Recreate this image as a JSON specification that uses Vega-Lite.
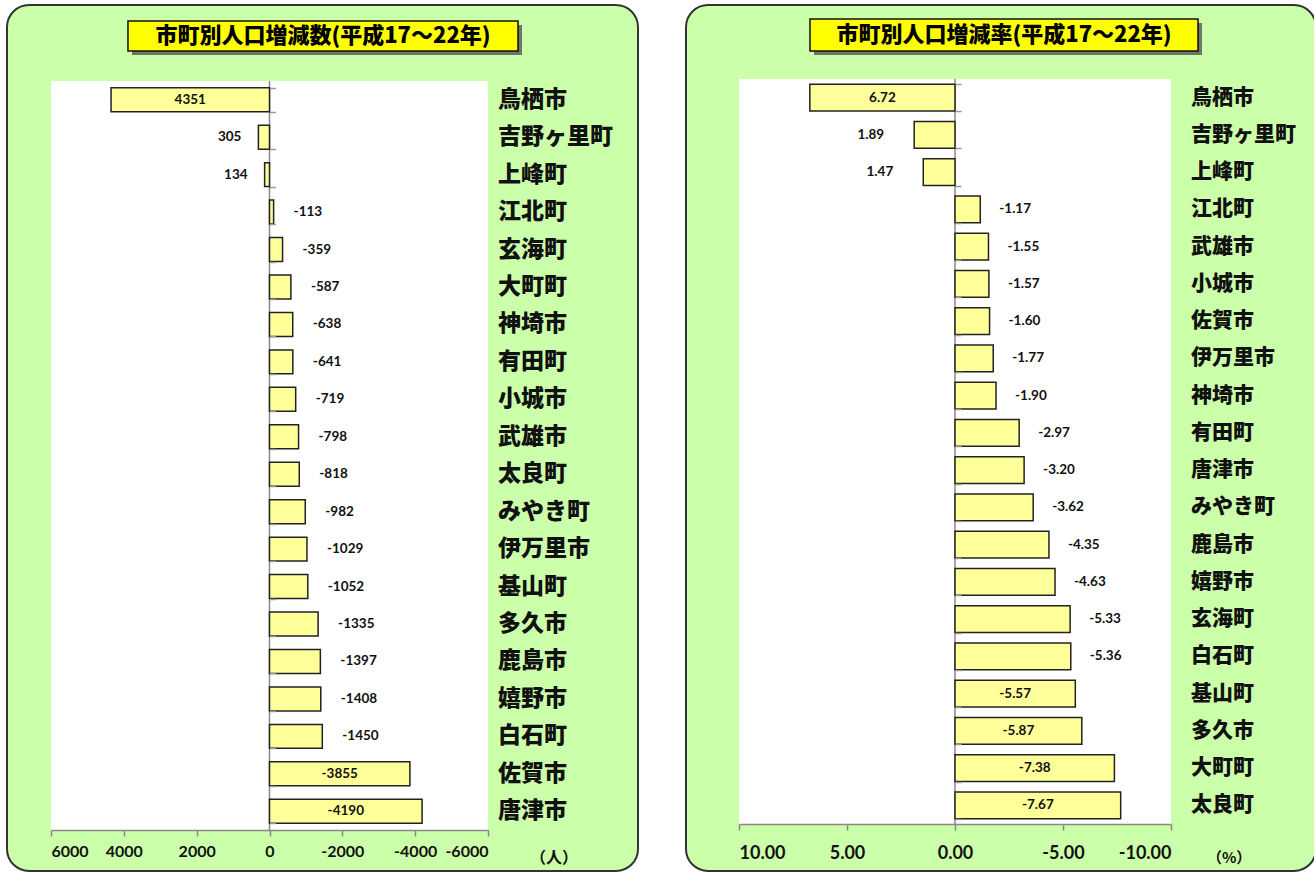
{
  "$schema": "https://vega.github.io/schema/vega-lite/v6.json",
  "background": "white",
  "padding": {"left": 6, "top": 4, "right": 0, "bottom": 0},
  "spacing": 46,
  "config": {
    "view": {"fill": "#CCFFAA", "stroke": "#333333", "strokeWidth": 2, "cornerRadius": 22},
    "locale": {"number": {"decimal": ".", "thousands": ",", "grouping": [3], "currency": ["$", ""], "minus": "-"}}
  },
  "datasets": {
    "count": [
      {"name": "鳥栖市", "v": 4351},
      {"name": "吉野ヶ里町", "v": 305},
      {"name": "上峰町", "v": 134},
      {"name": "江北町", "v": -113},
      {"name": "玄海町", "v": -359},
      {"name": "大町町", "v": -587},
      {"name": "神埼市", "v": -638},
      {"name": "有田町", "v": -641},
      {"name": "小城市", "v": -719},
      {"name": "武雄市", "v": -798},
      {"name": "太良町", "v": -818},
      {"name": "みやき町", "v": -982},
      {"name": "伊万里市", "v": -1029},
      {"name": "基山町", "v": -1052},
      {"name": "多久市", "v": -1335},
      {"name": "鹿島市", "v": -1397},
      {"name": "嬉野市", "v": -1408},
      {"name": "白石町", "v": -1450},
      {"name": "佐賀市", "v": -3855},
      {"name": "唐津市", "v": -4190}
    ],
    "rate": [
      {"name": "鳥栖市", "v": 6.72},
      {"name": "吉野ヶ里町", "v": 1.89},
      {"name": "上峰町", "v": 1.47},
      {"name": "江北町", "v": -1.17},
      {"name": "武雄市", "v": -1.55},
      {"name": "小城市", "v": -1.57},
      {"name": "佐賀市", "v": -1.60},
      {"name": "伊万里市", "v": -1.77},
      {"name": "神埼市", "v": -1.90},
      {"name": "有田町", "v": -2.97},
      {"name": "唐津市", "v": -3.20},
      {"name": "みやき町", "v": -3.62},
      {"name": "鹿島市", "v": -4.35},
      {"name": "嬉野市", "v": -4.63},
      {"name": "玄海町", "v": -5.33},
      {"name": "白石町", "v": -5.36},
      {"name": "基山町", "v": -5.57},
      {"name": "多久市", "v": -5.87},
      {"name": "大町町", "v": -7.38},
      {"name": "太良町", "v": -7.67}
    ]
  },
  "hconcat": [
    {
      "width": 631,
      "height": 866,
      "data": {"name": "count"},
      "resolve": {"scale": {"x": "independent", "y": "independent"}},
      "layer": [
        {
          "data": {"values": [{}]},
          "mark": {"type": "rect", "fill": "white"},
          "encoding": {
            "x": {"datum": 6000, "type": "quantitative", "scale": {"domain": [6000, -6000], "range": [44, 481], "nice": false, "zero": false}, "axis": null},
            "x2": {"datum": -6000},
            "y": {"datum": 76, "type": "quantitative", "scale": {"domain": [0, 866], "range": [0, 866], "nice": false, "zero": false}, "axis": null},
            "y2": {"datum": 825}
          }
        },
        {
          "data": {"values": [{}]},
          "mark": {"type": "rule", "color": "#888888", "strokeWidth": 1.5},
          "encoding": {
            "x": {"datum": 0, "type": "quantitative", "scale": {"domain": [6000, -6000], "range": [44, 481], "nice": false, "zero": false}, "axis": null},
            "y": {"datum": 76, "type": "quantitative", "scale": {"domain": [0, 866], "range": [0, 866], "nice": false, "zero": false}, "axis": null},
            "y2": {"datum": 825}
          }
        },
        {
          "mark": {"type": "bar", "fill": "#FFFF99", "stroke": "#222222", "strokeWidth": 1.5},
          "encoding": {
            "x": {"field": "v", "type": "quantitative", "scale": {"domain": [6000, -6000], "range": [44, 481], "nice": false, "zero": false},
              "axis": {"orient": "bottom", "offset": -41, "zindex": 1, "values": [6000, 4000, 2000, 0, -2000, -4000, -6000], "format": "d", "title": null, "grid": false,
                "domainColor": "#888888", "domainWidth": 1.5, "tickColor": "#888888", "tickWidth": 1.5, "tickSize": 6,
                "labelFont": "Lato", "labelFontSize": 16, "labelFontWeight": "bold", "labelColor": "#111111", "labelPadding": 7}},
            "x2": {"datum": 0},
            "y": {"field": "name", "type": "nominal", "sort": null,
              "scale": {"type": "band", "domain": ["鳥栖市", "吉野ヶ里町", "上峰町", "江北町", "玄海町", "大町町", "神埼市", "有田町", "小城市", "武雄市", "太良町", "みやき町", "伊万里市", "基山町", "多久市", "鹿島市", "嬉野市", "白石町", "佐賀市", "唐津市"], "range": [76, 825], "paddingInner": 0.36, "paddingOuter": 0.18},
              "axis": {"orient": "left", "offset": -262.5, "zindex": 1, "labels": false, "domain": false, "ticks": true, "tickSize": -6, "tickColor": "#999999", "tickWidth": 1.5, "tickBand": "extent", "title": null, "grid": false}}
          }
        },
        {
          "transform": [{"filter": "datum.v > 0 && datum.v < 3000"}],
          "mark": {"type": "text", "align": "right", "baseline": "middle", "dx": -17, "font": "Lato", "fontWeight": "bold", "fontSize": 13.5, "color": "#111111"},
          "encoding": {
            "x": {"field": "v", "type": "quantitative", "scale": {"domain": [6000, -6000], "range": [44, 481], "nice": false, "zero": false}, "axis": null},
            "y": {"field": "name", "type": "nominal", "sort": null, "scale": {"type": "band", "domain": ["鳥栖市", "吉野ヶ里町", "上峰町", "江北町", "玄海町", "大町町", "神埼市", "有田町", "小城市", "武雄市", "太良町", "みやき町", "伊万里市", "基山町", "多久市", "鹿島市", "嬉野市", "白石町", "佐賀市", "唐津市"], "range": [76, 825], "paddingInner": 0.36, "paddingOuter": 0.18}, "axis": null},
            "text": {"field": "v", "type": "quantitative", "format": "d"}
          }
        },
        {
          "transform": [{"filter": "datum.v < 0 && datum.v > -3000"}],
          "mark": {"type": "text", "align": "left", "baseline": "middle", "dx": 20, "font": "Lato", "fontWeight": "bold", "fontSize": 13.5, "color": "#111111"},
          "encoding": {
            "x": {"field": "v", "type": "quantitative", "scale": {"domain": [6000, -6000], "range": [44, 481], "nice": false, "zero": false}, "axis": null},
            "y": {"field": "name", "type": "nominal", "sort": null, "scale": {"type": "band", "domain": ["鳥栖市", "吉野ヶ里町", "上峰町", "江北町", "玄海町", "大町町", "神埼市", "有田町", "小城市", "武雄市", "太良町", "みやき町", "伊万里市", "基山町", "多久市", "鹿島市", "嬉野市", "白石町", "佐賀市", "唐津市"], "range": [76, 825], "paddingInner": 0.36, "paddingOuter": 0.18}, "axis": null},
            "text": {"field": "v", "type": "quantitative", "format": "d"}
          }
        },
        {
          "transform": [{"filter": "abs(datum.v) >= 3000"}],
          "mark": {"type": "text", "align": "center", "baseline": "middle", "font": "Lato", "fontWeight": "bold", "fontSize": 13.5, "color": "#111111"},
          "encoding": {
            "x": {"field": "v", "type": "quantitative", "scale": {"domain": [12000, -12000], "range": [44, 481], "nice": false, "zero": false}, "axis": null},
            "y": {"field": "name", "type": "nominal", "sort": null, "scale": {"type": "band", "domain": ["鳥栖市", "吉野ヶ里町", "上峰町", "江北町", "玄海町", "大町町", "神埼市", "有田町", "小城市", "武雄市", "太良町", "みやき町", "伊万里市", "基山町", "多久市", "鹿島市", "嬉野市", "白石町", "佐賀市", "唐津市"], "range": [76, 825], "paddingInner": 0.36, "paddingOuter": 0.18}, "axis": null},
            "text": {"field": "v", "type": "quantitative", "format": "d"}
          }
        },
        {
          "mark": {"type": "text", "align": "left", "baseline": "middle", "font": "Noto Sans CJK JP", "fontWeight": 900, "fontSize": 23, "color": "#111111"},
          "encoding": {
            "x": {"datum": -6275, "type": "quantitative", "scale": {"domain": [6000, -6000], "range": [44, 481], "nice": false, "zero": false}, "axis": null},
            "y": {"field": "name", "type": "nominal", "sort": null, "scale": {"type": "band", "domain": ["鳥栖市", "吉野ヶ里町", "上峰町", "江北町", "玄海町", "大町町", "神埼市", "有田町", "小城市", "武雄市", "太良町", "みやき町", "伊万里市", "基山町", "多久市", "鹿島市", "嬉野市", "白石町", "佐賀市", "唐津市"], "range": [76, 825], "paddingInner": 0.36, "paddingOuter": 0.18}, "axis": null},
            "text": {"field": "name", "type": "nominal"}
          }
        },
        {
          "data": {"values": [{}]},
          "mark": {"type": "rect", "fill": "#555555", "opacity": 0.8},
          "encoding": {
            "x": {"datum": 3776, "type": "quantitative", "scale": {"domain": [6000, -6000], "range": [44, 481], "nice": false, "zero": false}, "axis": null},
            "x2": {"datum": -6934},
            "y": {"datum": 20, "type": "quantitative", "scale": {"domain": [0, 866], "range": [0, 866], "nice": false, "zero": false}, "axis": null},
            "y2": {"datum": 50}
          }
        },
        {
          "data": {"values": [{}]},
          "mark": {"type": "rect", "fill": "#FFFF00", "stroke": "#111111", "strokeWidth": 1.5},
          "encoding": {
            "x": {"datum": 3886, "type": "quantitative", "scale": {"domain": [6000, -6000], "range": [44, 481], "nice": false, "zero": false}, "axis": null},
            "x2": {"datum": -6824},
            "y": {"datum": 16, "type": "quantitative", "scale": {"domain": [0, 866], "range": [0, 866], "nice": false, "zero": false}, "axis": null},
            "y2": {"datum": 46}
          }
        },
        {
          "data": {"values": [{"t": "市町別人口増減数(平成17～22年)"}]},
          "mark": {"type": "text", "align": "center", "baseline": "middle", "font": "Noto Sans CJK JP", "fontWeight": 900, "fontSize": 22, "color": "#000000"},
          "encoding": {
            "x": {"datum": -1469, "type": "quantitative", "scale": {"domain": [6000, -6000], "range": [44, 481], "nice": false, "zero": false}, "axis": null},
            "y": {"datum": 31, "type": "quantitative", "scale": {"domain": [0, 866], "range": [0, 866], "nice": false, "zero": false}, "axis": null},
            "text": {"field": "t", "type": "nominal"}
          }
        },
        {
          "data": {"values": [{"t": "（人）"}]},
          "mark": {"type": "text", "align": "center", "baseline": "middle", "font": "Noto Sans CJK JP", "fontWeight": "bold", "fontSize": 16, "color": "#111111"},
          "encoding": {
            "x": {"datum": -7812, "type": "quantitative", "scale": {"domain": [6000, -6000], "range": [44, 481], "nice": false, "zero": false}, "axis": null},
            "y": {"datum": 853, "type": "quantitative", "scale": {"domain": [0, 866], "range": [0, 866], "nice": false, "zero": false}, "axis": null},
            "text": {"field": "t", "type": "nominal"}
          }
        }
      ]
    },
    {
      "width": 630,
      "height": 866,
      "data": {"name": "rate"},
      "resolve": {"scale": {"x": "independent", "y": "independent"}},
      "layer": [
        {
          "data": {"values": [{}]},
          "mark": {"type": "rect", "fill": "white"},
          "encoding": {
            "x": {"datum": 10, "type": "quantitative", "scale": {"domain": [10, -10], "range": [53, 485], "nice": false, "zero": false}, "axis": null},
            "x2": {"datum": -10},
            "y": {"datum": 74, "type": "quantitative", "scale": {"domain": [0, 866], "range": [0, 866], "nice": false, "zero": false}, "axis": null},
            "y2": {"datum": 819}
          }
        },
        {
          "data": {"values": [{}]},
          "mark": {"type": "rule", "color": "#888888", "strokeWidth": 1.5},
          "encoding": {
            "x": {"datum": 0, "type": "quantitative", "scale": {"domain": [10, -10], "range": [53, 485], "nice": false, "zero": false}, "axis": null},
            "y": {"datum": 74, "type": "quantitative", "scale": {"domain": [0, 866], "range": [0, 866], "nice": false, "zero": false}, "axis": null},
            "y2": {"datum": 819}
          }
        },
        {
          "mark": {"type": "bar", "fill": "#FFFF99", "stroke": "#222222", "strokeWidth": 1.5},
          "encoding": {
            "x": {"field": "v", "type": "quantitative", "scale": {"domain": [10, -10], "range": [53, 485], "nice": false, "zero": false},
              "axis": {"orient": "bottom", "offset": -47, "zindex": 1, "values": [10, 5, 0, -5, -10], "format": ".2f", "title": null, "grid": false,
                "domainColor": "#888888", "domainWidth": 1.5, "tickColor": "#888888", "tickWidth": 1.5, "tickSize": 6,
                "labelFont": "Lato", "labelFontSize": 18, "labelFontWeight": "bold", "labelColor": "#111111", "labelPadding": 14}},
            "x2": {"datum": 0},
            "y": {"field": "name", "type": "nominal", "sort": null,
              "scale": {"type": "band", "domain": ["鳥栖市", "吉野ヶ里町", "上峰町", "江北町", "武雄市", "小城市", "佐賀市", "伊万里市", "神埼市", "有田町", "唐津市", "みやき町", "鹿島市", "嬉野市", "玄海町", "白石町", "基山町", "多久市", "大町町", "太良町"], "range": [74, 819], "paddingInner": 0.28, "paddingOuter": 0.14},
              "axis": {"orient": "left", "offset": -269, "zindex": 1, "labels": false, "domain": false, "ticks": true, "tickSize": -6, "tickColor": "#999999", "tickWidth": 1.5, "tickBand": "extent", "title": null, "grid": false}}
          }
        },
        {
          "transform": [{"filter": "datum.v > 0 && datum.v < 5.5"}],
          "mark": {"type": "text", "align": "right", "baseline": "middle", "dx": -30, "font": "Lato", "fontWeight": "bold", "fontSize": 13.5, "color": "#111111"},
          "encoding": {
            "x": {"field": "v", "type": "quantitative", "scale": {"domain": [10, -10], "range": [53, 485], "nice": false, "zero": false}, "axis": null},
            "y": {"field": "name", "type": "nominal", "sort": null, "scale": {"type": "band", "domain": ["鳥栖市", "吉野ヶ里町", "上峰町", "江北町", "武雄市", "小城市", "佐賀市", "伊万里市", "神埼市", "有田町", "唐津市", "みやき町", "鹿島市", "嬉野市", "玄海町", "白石町", "基山町", "多久市", "大町町", "太良町"], "range": [74, 819], "paddingInner": 0.28, "paddingOuter": 0.14}, "axis": null},
            "text": {"field": "v", "type": "quantitative", "format": ".2f"}
          }
        },
        {
          "transform": [{"filter": "datum.v < 0 && datum.v > -5.5"}],
          "mark": {"type": "text", "align": "left", "baseline": "middle", "dx": 19, "font": "Lato", "fontWeight": "bold", "fontSize": 13.5, "color": "#111111"},
          "encoding": {
            "x": {"field": "v", "type": "quantitative", "scale": {"domain": [10, -10], "range": [53, 485], "nice": false, "zero": false}, "axis": null},
            "y": {"field": "name", "type": "nominal", "sort": null, "scale": {"type": "band", "domain": ["鳥栖市", "吉野ヶ里町", "上峰町", "江北町", "武雄市", "小城市", "佐賀市", "伊万里市", "神埼市", "有田町", "唐津市", "みやき町", "鹿島市", "嬉野市", "玄海町", "白石町", "基山町", "多久市", "大町町", "太良町"], "range": [74, 819], "paddingInner": 0.28, "paddingOuter": 0.14}, "axis": null},
            "text": {"field": "v", "type": "quantitative", "format": ".2f"}
          }
        },
        {
          "transform": [{"filter": "abs(datum.v) >= 5.5"}],
          "mark": {"type": "text", "align": "center", "baseline": "middle", "font": "Lato", "fontWeight": "bold", "fontSize": 13.5, "color": "#111111"},
          "encoding": {
            "x": {"field": "v", "type": "quantitative", "scale": {"domain": [20, -20], "range": [53, 485], "nice": false, "zero": false}, "axis": null},
            "y": {"field": "name", "type": "nominal", "sort": null, "scale": {"type": "band", "domain": ["鳥栖市", "吉野ヶ里町", "上峰町", "江北町", "武雄市", "小城市", "佐賀市", "伊万里市", "神埼市", "有田町", "唐津市", "みやき町", "鹿島市", "嬉野市", "玄海町", "白石町", "基山町", "多久市", "大町町", "太良町"], "range": [74, 819], "paddingInner": 0.28, "paddingOuter": 0.14}, "axis": null},
            "text": {"field": "v", "type": "quantitative", "format": ".2f"}
          }
        },
        {
          "mark": {"type": "text", "align": "left", "baseline": "middle", "font": "Noto Sans CJK JP", "fontWeight": 900, "fontSize": 21, "color": "#111111"},
          "encoding": {
            "x": {"datum": -10.93, "type": "quantitative", "scale": {"domain": [10, -10], "range": [53, 485], "nice": false, "zero": false}, "axis": null},
            "y": {"field": "name", "type": "nominal", "sort": null, "scale": {"type": "band", "domain": ["鳥栖市", "吉野ヶ里町", "上峰町", "江北町", "武雄市", "小城市", "佐賀市", "伊万里市", "神埼市", "有田町", "唐津市", "みやき町", "鹿島市", "嬉野市", "玄海町", "白石町", "基山町", "多久市", "大町町", "太良町"], "range": [74, 819], "paddingInner": 0.28, "paddingOuter": 0.14}, "axis": null},
            "text": {"field": "name", "type": "nominal"}
          }
        },
        {
          "data": {"values": [{}]},
          "mark": {"type": "rect", "fill": "#555555", "opacity": 0.8},
          "encoding": {
            "x": {"datum": 6.528, "type": "quantitative", "scale": {"domain": [10, -10], "range": [53, 485], "nice": false, "zero": false}, "axis": null},
            "x2": {"datum": -11.435},
            "y": {"datum": 18, "type": "quantitative", "scale": {"domain": [0, 866], "range": [0, 866], "nice": false, "zero": false}, "axis": null},
            "y2": {"datum": 50}
          }
        },
        {
          "data": {"values": [{}]},
          "mark": {"type": "rect", "fill": "#FFFF00", "stroke": "#111111", "strokeWidth": 1.5},
          "encoding": {
            "x": {"datum": 6.713, "type": "quantitative", "scale": {"domain": [10, -10], "range": [53, 485], "nice": false, "zero": false}, "axis": null},
            "x2": {"datum": -11.25},
            "y": {"datum": 14, "type": "quantitative", "scale": {"domain": [0, 866], "range": [0, 866], "nice": false, "zero": false}, "axis": null},
            "y2": {"datum": 46}
          }
        },
        {
          "data": {"values": [{"t": "市町別人口増減率(平成17～22年)"}]},
          "mark": {"type": "text", "align": "center", "baseline": "middle", "font": "Noto Sans CJK JP", "fontWeight": 900, "fontSize": 22, "color": "#000000"},
          "encoding": {
            "x": {"datum": -2.27, "type": "quantitative", "scale": {"domain": [10, -10], "range": [53, 485], "nice": false, "zero": false}, "axis": null},
            "y": {"datum": 30, "type": "quantitative", "scale": {"domain": [0, 866], "range": [0, 866], "nice": false, "zero": false}, "axis": null},
            "text": {"field": "t", "type": "nominal"}
          }
        },
        {
          "data": {"values": [{"t": "（%）"}]},
          "mark": {"type": "text", "align": "center", "baseline": "middle", "font": "Noto Sans CJK JP", "fontWeight": "bold", "fontSize": 15, "color": "#111111"},
          "encoding": {
            "x": {"datum": -12.69, "type": "quantitative", "scale": {"domain": [10, -10], "range": [53, 485], "nice": false, "zero": false}, "axis": null},
            "y": {"datum": 853, "type": "quantitative", "scale": {"domain": [0, 866], "range": [0, 866], "nice": false, "zero": false}, "axis": null},
            "text": {"field": "t", "type": "nominal"}
          }
        }
      ]
    }
  ]
}
